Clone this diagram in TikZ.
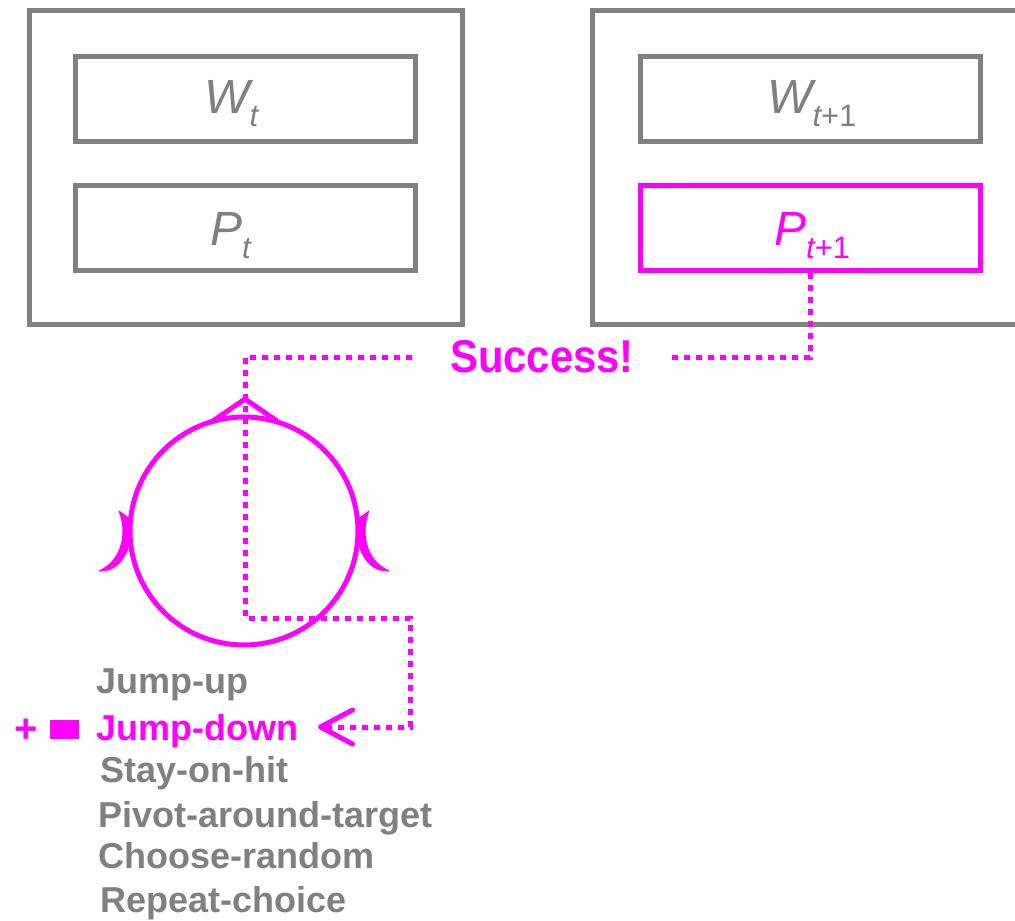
\documentclass[tikz,border=0pt]{standalone}
\usepackage{fontspec}
\setmainfont{Liberation Sans}
\newfontfamily\succfont{Liberation Sans}[FakeStretch=0.91]
\usetikzlibrary{arrows.meta}
\definecolor{gr}{HTML}{808080}
\definecolor{mag}{HTML}{FF00FF}
\newcommand{\mylab}[2]{{\itshape\fontsize{48}{48}\selectfont #1}\raisebox{-13pt}{\fontsize{31}{31}\selectfont #2}}
\tikzset{
  outbox/.style={draw=gr, line width=5pt, inner sep=0pt},
  inbox/.style={draw=gr, line width=5pt, minimum width=340pt, minimum height=85pt, inner sep=0pt},
  hotbox/.style={inbox, draw=mag},
  lbl/.style={anchor=base west, inner sep=0pt, text=gr},
  item/.style={anchor=base west, inner sep=0pt, text=gr, font=\bfseries\fontsize{36}{36}\selectfont},
  dotline/.style={draw=mag, line width=5pt, dash pattern=on 6pt off 6pt},
  barb/.style={fill=mag, draw=mag, line width=1pt, line join=round},
}
\begin{document}
\begin{tikzpicture}[x=1pt, y=-1pt]
\useasboundingbox (0,0) rectangle (1015,921);
% outer frames
\node[outbox, minimum width=433pt, minimum height=314pt] (left) at (245.5,167) {};
\node[outbox, minimum width=448pt, minimum height=314pt] (right) at (816,167) {};
% inner boxes
\node[inbox] (wt) at (245,98.5) {};
\node[inbox] (pt) at (245,228) {};
\node[inbox] (wt1) at (810,98.5) {};
\node[hotbox] (pt1) at (810,228) {};
% labels
\node[lbl] (lwt) at (204,113) {\mylab{W}{\itshape t}};
\node[lbl] (lpt) at (210,245) {\mylab{P}{\itshape t}};
\node[lbl] (lwt1) at (767,113) {\mylab{W}{{\itshape t}+1}};
\node[lbl, text=mag] (lpt1) at (774,245) {\mylab{P}{{\itshape t}+1}};
% success
\node[text=mag, minimum width=260pt, inner sep=0pt, font=\succfont\bfseries\fontsize{46}{46}\selectfont] (succ) at (542,357) {Success!};
% cycle
\node[circle, draw=mag, line width=5pt, minimum size=228pt, inner sep=0pt] (loop) at (244,531) {};
% list
\node[item] (ju) at (96,693) {Jump-up};
\node[item, text=mag] (jd) at (96,740) {Jump-down};
\node[item] (soh) at (100,782) {Stay-on-hit};
\node[item] (pat) at (98,827) {Pivot-around-target};
\node[item] (cr) at (98,868) {Choose-random};
\node[item] (rc) at (100,912) {Repeat-choice};
\node[text=mag, inner sep=0pt, font=\bfseries\fontsize{40}{40}\selectfont] (plus) at (26,731) {+};
\node[fill=mag, minimum width=29pt, minimum height=19pt, inner sep=0pt] (sq) at (64.5,729.5) {};
% connectors
\coordinate (t1) at (245,618);
\coordinate (t2) at (410,618);
\coordinate (tip) at (318,727);
\draw[dotline] (pt1.south) |- (succ.east);
\draw[dotline, -{Straight Barb[length=32pt,width=34pt,line cap=round,line join=round]}]
  (succ.west) -| (t1) -- (t2) |- (tip);
% arrow marks on the cycle
\draw[mag, line width=5pt, line join=miter] (213,421) -- (245,399) -- (277,421);
\path[barb] (119,511) .. controls (127,530) and (124,560) .. (99,571)
  .. controls (112,572) and (123,563) .. (128,548) -- (131,520) -- cycle;
\path[barb] (369,511) .. controls (361,530) and (364,560) .. (389,571)
  .. controls (376,572) and (365,563) .. (360,548) -- (357,520) -- cycle;
\end{tikzpicture}
\end{document}
